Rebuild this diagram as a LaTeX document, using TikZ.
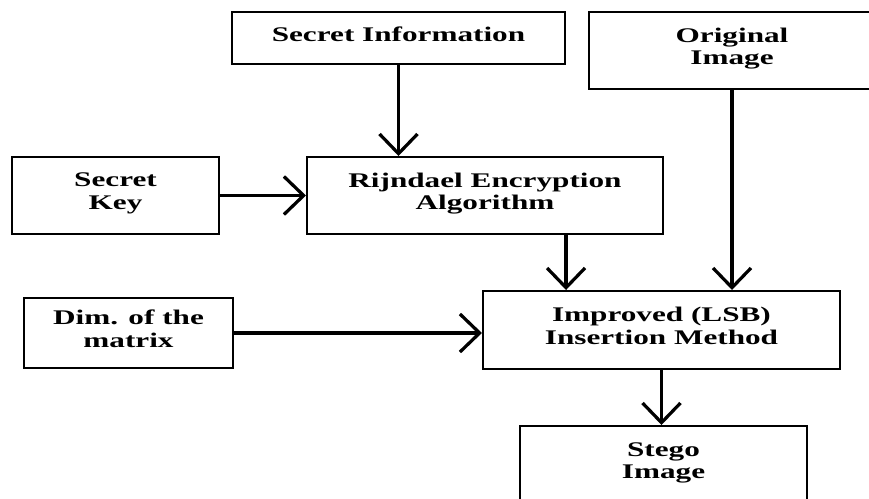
\documentclass[tikz,border=0pt]{standalone}
\usepackage{fontspec}
\setmainfont{Liberation Serif}[FakeStretch=1.5]
\usepackage{tikz}
\usetikzlibrary{arrows.meta}

\begin{document}
\begin{tikzpicture}[x=0.025cm,y=-0.025cm,
    blk/.style={draw,line width=1.4pt,align=center,inner sep=0pt,text depth=6pt,
      font=\fontsize{14.8}{16}\selectfont\bfseries},
    flow/.style={line width=2.3pt,-{Straight Barb[length=14pt,width=27pt,line width=2.3pt]}}]
  \useasboundingbox (0,0) rectangle (869,499);
  \clip (0,0) rectangle (869,499);
  \node[blk,minimum width=8.325cm,minimum height=1.3cm] (info) at (398.5,38) {Secret Information};
  \node[blk,minimum width=7.15cm,minimum height=1.925cm] (orig) at (732,50.5) {Original\\Image};
  \node[blk,minimum width=5.175cm,minimum height=1.925cm] (key) at (115.5,195.5) {Secret\\Key};
  \node[blk,minimum width=8.9cm,minimum height=1.925cm] (rijn) at (485,195.5) {Rijndael Encryption\\Algorithm};
  \node[blk,minimum width=5.225cm,minimum height=1.75cm] (dim) at (128.5,333) {Dim. of the\\matrix};
  \node[blk,minimum width=8.925cm,minimum height=1.95cm] (impr) at (661.5,330) {Improved (LSB)\\Insertion Method};
  \node[blk,minimum width=7.175cm,minimum height=1.95cm] (stego) at (663.5,465) {Stego\\Image};
  \coordinate (rout) at ([xshift=2.025cm]rijn.south);
  \draw[flow] (info.south) -- (info.south |- rijn.north);
  \draw[flow] (key) -- (rijn);
  \draw[flow] (rout) -- (rout |- impr.north);
  \draw[flow] (orig.south) -- (orig.south |- impr.north);
  \draw[flow] (dim.east) -- (dim.east -| impr.west);
  \draw[flow] (impr.south) -- (impr.south |- stego.north);
\end{tikzpicture}
\end{document}
